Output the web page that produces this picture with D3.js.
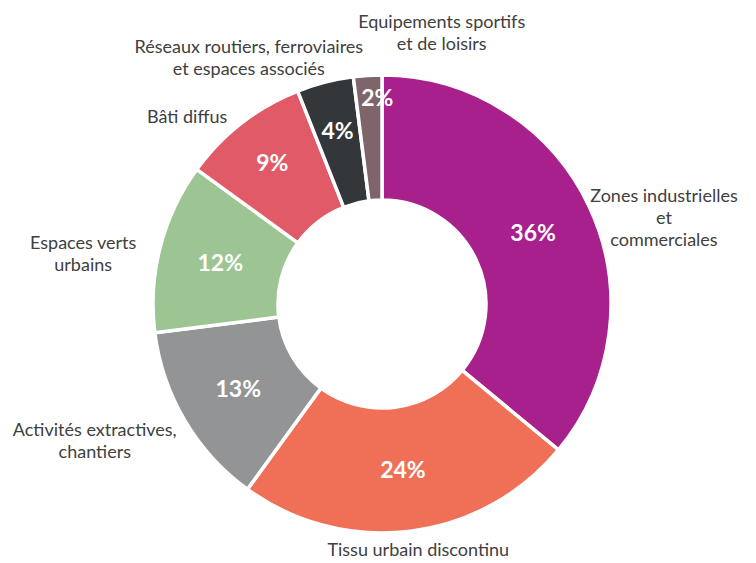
<!DOCTYPE html>
<html>
<head>
<meta charset="utf-8">
<script src="https://cdn.jsdelivr.net/npm/d3@7"></script>
<style>
  body { margin: 0; background: #fff; }
  svg { display: block; font-family: Lato, "Open Sans", sans-serif; }
</style>
</head>
<body>
<svg id="chart" width="756" height="563"></svg>
<script>
// data
const categories = [
    ['Zones industrielles', 'et', 'commerciales'],
    ['Tissu urbain discontinu'],
    ['Activités extractives,', 'chantiers'],
    ['Espaces verts', 'urbains'],
    ['Bâti diffus'],
    ['Réseaux routiers, ferroviaires', 'et espaces associés'],
    ['Equipements sportifs', 'et de loisirs']
];
const shares = [36, 24, 13, 12, 9, 4, 2];
const colors = ['#a8208b', '#f07057', '#929495', '#9dc593', '#e05b67', '#33373a', '#7f6569'];

// where the category text sits (angle in degrees from 12 o'clock, distance from centre)
const labelAngle = [72.9, 171.6, 244.6, 279.5, 313.8, 331.6, 12.4];
const labelRadius = [295, 248, 318, 303, 270, 280, 278];

const cx = 382, cy = 304;
const outerR = 229, innerR = 104;

const svg = d3.select('#chart');
const g = svg.append('g').attr('transform', `translate(${cx},${cy})`);

const pie = d3.pie().sort(null).value(d => d.value);
const arcs = pie(shares.map((v, i) => ({ value: v, i: i })));

const arc = d3.arc().innerRadius(innerR).outerRadius(outerR);

g.selectAll('path.slice')
    .data(arcs)
    .enter()
    .append('path')
    .attr('class', 'slice')
    .attr('d', arc)
    .style('fill', d => colors[d.data.i])
    .style('stroke', '#fff')
    .style('stroke-width', 3.5)
    .style('stroke-linejoin', 'miter');

// percent labels, small slices pushed outwards like excel does
function pctRadius(v) {
    if (v < 3) return 206;
    if (v < 10) return 179;
    return 167;
}

g.selectAll('text.pct')
    .data(arcs)
    .enter()
    .append('text')
    .attr('class', 'pct')
    .attr('transform', function (d) {
        let a = (d.startAngle + d.endAngle) / 2;
        if (d.data.value < 3) a += 0.04; // excel nudges the tiny one right
        let r = pctRadius(d.data.value);
        return `translate(${Math.sin(a) * r},${-Math.cos(a) * r})`;
    })
    .attr('text-anchor', 'middle')
    .attr('dy', '0.36em')
    .style('font-size', '23px')
    .style('font-weight', 700)
    .style('fill', '#fff')
    .text(d => d.data.value + '%');

// category labels
let lab = g.selectAll('text.cat')
    .data(categories)
    .enter()
    .append('text')
    .attr('class', 'cat')
    .attr('text-anchor', 'middle')
    .style('font-size', '18px')
    .style('fill', '#404040')
    .attr('transform', function (d, i) {
        let a = labelAngle[i] * Math.PI / 180;
        let r = labelRadius[i];
        let y0 = -Math.cos(a) * r - (d.length - 1) * 22 / 2;
        return `translate(${Math.sin(a) * r},${y0})`;
    });

lab.selectAll('tspan')
    .data(d => d)
    .enter()
    .append('tspan')
    .attr('x', 0)
    .attr('y', (d, j) => j * 22)
    .attr('dy', '0.35em')
    .text(d => d);
</script>
</body>
</html>
